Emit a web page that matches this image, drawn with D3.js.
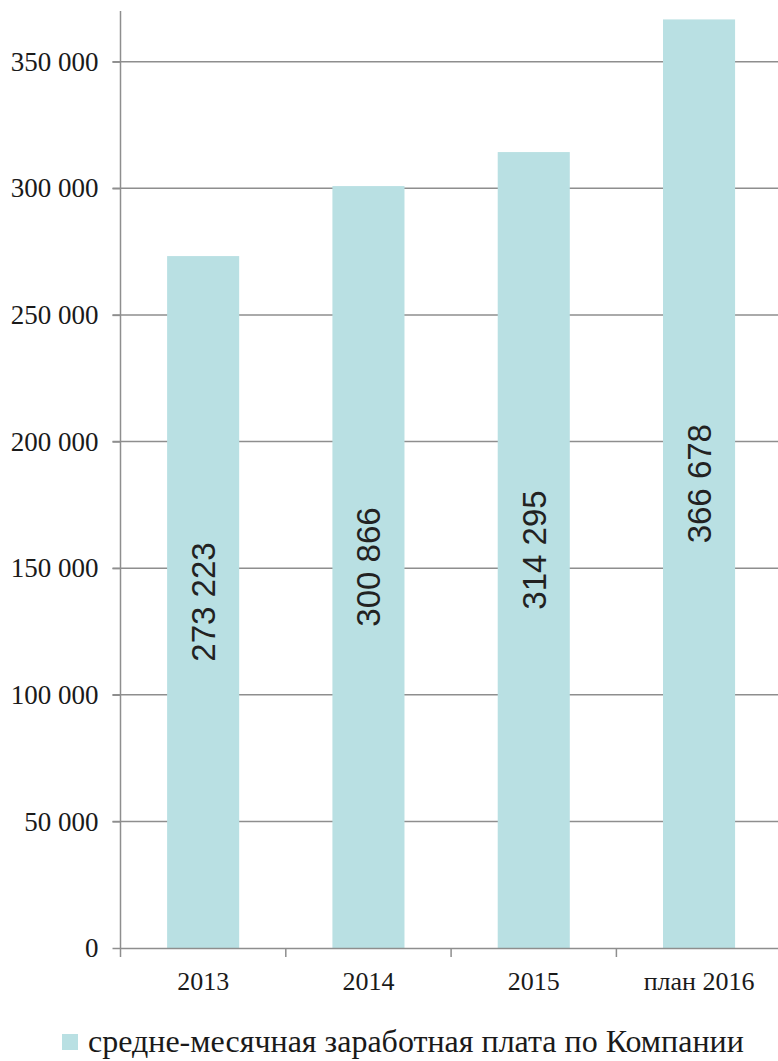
<!DOCTYPE html>
<html>
<head>
<meta charset="utf-8">
<script src="https://cdn.jsdelivr.net/npm/d3@7"></script>
<style>
  body { margin: 0; background: #fff; }
  svg { display: block; }
</style>
</head>
<body>
<svg id="chart" width="778" height="1061"></svg>
<script>
const categories = ["2013", "2014", "2015", "план 2016"];
const values = [273223, 300866, 314295, 366678];
const yTicks = [0, 50000, 100000, 150000, 200000, 250000, 300000, 350000];
const seriesName = "средне-месячная заработная плата по Компании";

const ru = d3.formatLocale({ decimal: ",", thousands: " ", grouping: [3], currency: ["", ""] });
const fmt = ru.format(",.0f");

const svg = d3.select("#chart");
const plotLeft = 120.5, plotBottom = 948, plotTop = 11;
const bandW = 165.3;
const serif = "'Liberation Serif', 'Times New Roman', serif";

const x = d3.scaleBand()
  .domain(categories)
  .range([plotLeft, plotLeft + bandW * categories.length])
  .paddingInner(0.564)
  .paddingOuter(0.282);

const y = d3.scaleLinear().domain([0, 370000]).range([plotBottom, plotTop]);

// gridlines
svg.append("g")
  .selectAll("line")
  .data(yTicks.filter(d => d > 0))
  .enter().append("line")
  .attr("x1", plotLeft - 8).attr("x2", 778)
  .attr("y1", d => y(d)).attr("y2", d => y(d))
  .attr("stroke", "#8e8e8e").attr("stroke-width", 1.5);

// bars
svg.append("g")
  .selectAll("rect")
  .data(values)
  .enter().append("rect")
  .attr("x", (d, i) => x(categories[i]))
  .attr("width", x.bandwidth())
  .attr("y", d => y(d))
  .attr("height", d => plotBottom - y(d))
  .attr("fill", "#b9e0e3");

// value labels, rotated
svg.append("g")
  .selectAll("text")
  .data(values)
  .enter().append("text")
  .attr("transform", (d, i) => "translate(" + (x(categories[i]) + x.bandwidth() / 2) + "," + ((y(d) + plotBottom) / 2) + ") rotate(-90)")
  .attr("text-anchor", "middle")
  .attr("dy", "0.36em")
  .attr("font-family", "'Liberation Sans', Arial, sans-serif")
  .attr("font-size", 33)
  .attr("fill", "#222")
  .text(d => fmt(d));

// y axis
const yAxis = d3.axisLeft(y).tickValues(yTicks).tickSize(8).tickPadding(14).tickFormat(fmt);
const gy = svg.append("g").attr("transform", "translate(" + plotLeft + ",0)").call(yAxis);
gy.attr("font-family", serif);
gy.select(".domain").attr("stroke", "#8e8e8e").attr("stroke-width", 1.5).attr("d", "M0," + plotTop + "V" + plotBottom);
gy.selectAll(".tick line").attr("stroke", "#8e8e8e").attr("stroke-width", 1.5);
gy.selectAll("text")
  .style("font-family", serif)
  .attr("font-size", 27).attr("fill", "#1a1a1a");

// x axis with ticks between categories
const xAxis = d3.axisBottom(x).tickSize(0).tickPadding(24);
const gx = svg.append("g").attr("transform", "translate(0," + plotBottom + ")").call(xAxis);
gx.attr("font-family", serif);
gx.select(".domain").attr("stroke", "#8e8e8e").attr("stroke-width", 1.5);
gx.selectAll("text")
  .style("font-family", serif)
  .attr("font-size", 26).attr("fill", "#1a1a1a");
gx.append("g")
  .selectAll("line")
  .data(d3.range(categories.length + 1))
  .enter().append("line")
  .attr("x1", i => plotLeft + i * bandW).attr("x2", i => plotLeft + i * bandW)
  .attr("y1", 0).attr("y2", 9)
  .attr("stroke", "#8e8e8e").attr("stroke-width", 1.5);

// legend
const lg = svg.append("g").attr("transform", "translate(62,1034)");
lg.append("rect").attr("width", 16).attr("height", 16).attr("fill", "#b9e0e3");
lg.append("text")
  .attr("x", 26).attr("y", 18)
  .style("font-family", serif)
  .attr("font-size", 32).attr("fill", "#1a1a1a")
  .text(seriesName);
</script>
</body>
</html>
